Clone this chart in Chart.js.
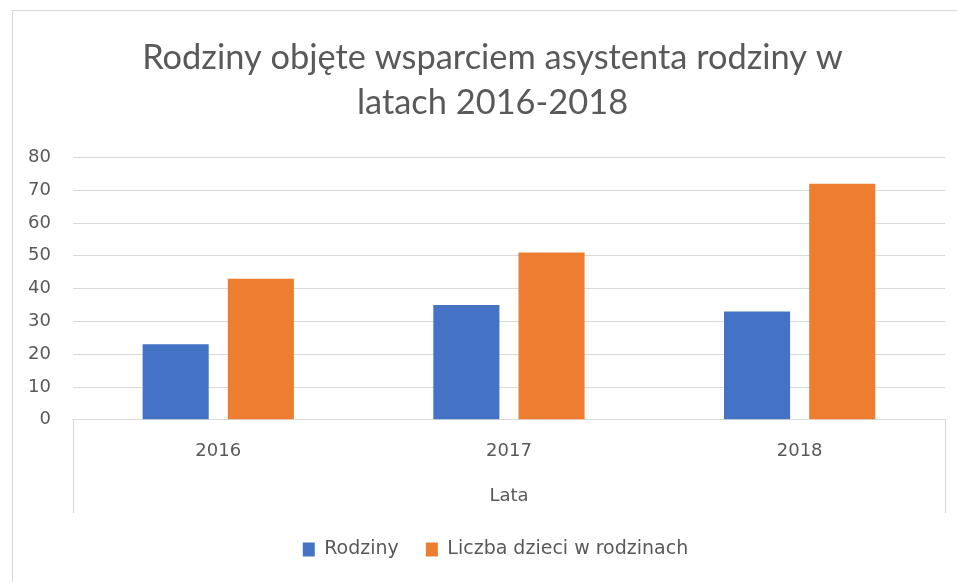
<!DOCTYPE html>
<html>
<head>
<meta charset="utf-8">
<script src="https://cdn.jsdelivr.net/npm/chart.js@4"></script>
<style>
  html, body { margin: 0; padding: 0; background: #fff; }
  #wrap { position: relative; width: 957px; height: 582px; }
  #frame { position: absolute; left: 12px; top: 10px; width: 960px; height: 590px; border: 1px solid #d9d9d9; }
</style>
</head>
<body>
<div id="wrap">
  <div id="frame"></div>
  <canvas id="chart" width="957" height="582"></canvas>
</div>
<script>
const years = ['2016', '2017', '2018']
const rodziny = [23, 35, 33]
const dzieci = [43, 51, 72]
const yTicks = [0, 10, 20, 30, 40, 50, 60, 70, 80]

const textColor = '#595959'
const titleFont = 'Lato, "Open Sans", sans-serif'
const labelFont = '"DejaVu Sans", sans-serif'

// box around the category labels, like Excel draws it
const axisBox = {
  id: 'axisBox',
  afterDraw(chart) {
    const { ctx, chartArea } = chart
    const x = chart.scales.x
    ctx.save()
    ctx.strokeStyle = '#d9d9d9'
    ctx.lineWidth = 1
    ctx.beginPath()
    ctx.moveTo(Math.round(chartArea.left) + 0.5, chartArea.bottom)
    ctx.lineTo(Math.round(chartArea.left) + 0.5, x.bottom)
    ctx.moveTo(Math.round(chartArea.right) + 0.5, chartArea.bottom)
    ctx.lineTo(Math.round(chartArea.right) + 0.5, x.bottom)
    ctx.stroke()
    ctx.restore()
  }
}

// Excel centres title and legend on the plot, not the whole canvas
const centreOnPlot = {
  id: 'centreOnPlot',
  afterLayout(chart) {
    const t = chart.titleBlock
    const l = chart.legend
    if (t) { t.left += 17; t.right += 17 }
    if (l) { l.left += 20; l.right += 20 }
  }
}

new Chart(document.querySelector('#chart'), {
  type: 'bar',
  data: {
    labels: years,
    datasets: [{
      label: 'Rodziny',
      data: rodziny,
      backgroundColor: '#4472c4',
      categoryPercentage: 0.586,
      barPercentage: 0.776
    }, {
      label: 'Liczba dzieci w rodzinach',
      data: dzieci,
      backgroundColor: '#ed7d31',
      categoryPercentage: 0.586,
      barPercentage: 0.776
    }]
  },
  options: {
    responsive: false,
    animation: false,
    layout: {
      padding: { left: 6, right: 12, top: 20, bottom: 13 }
    },
    plugins: {
      title: {
        display: true,
        text: ['Rodziny objęte wsparciem asystenta rodziny w', 'latach 2016-2018'],
        color: textColor,
        font: { family: titleFont, size: 34.4, weight: 'normal', lineHeight: 1.3 },
        padding: { top: 16, bottom: 32 }
      },
      legend: {
        position: 'bottom',
        labels: {
          color: textColor,
          font: { family: labelFont, size: 19 },
          boxWidth: 12,
          boxHeight: 14,
          padding: 27
        }
      },
      tooltip: { enabled: false }
    },
    scales: {
      x: {
        grid: { display: false },
        border: { display: true, color: '#d9d9d9' },
        ticks: {
          color: textColor,
          font: { family: labelFont, size: 18 },
          padding: 13
        },
        title: {
          display: true,
          text: 'Lata',
          color: textColor,
          font: { family: labelFont, size: 18 },
          padding: { top: 10, bottom: 6 }
        }
      },
      y: {
        min: 0,
        max: 80,
        afterBuildTicks: axis => { axis.ticks = yTicks.map(v => ({ value: v })) },
        grid: { color: '#d9d9d9', drawTicks: false },
        border: { display: false },
        ticks: {
          color: textColor,
          font: { family: labelFont, size: 18 },
          padding: 22
        }
      }
    }
  },
  plugins: [axisBox, centreOnPlot]
})
</script>
</body>
</html>
